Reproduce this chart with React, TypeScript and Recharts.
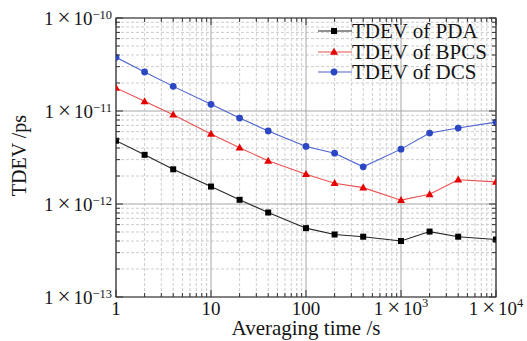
import { LineChart, Line, XAxis, YAxis, CartesianGrid, ReferenceArea } from 'recharts';

const FONT = '"Liberation Serif", "Times New Roman", serif';

// averaging time tau (s)
const taus = [1, 2, 4, 10, 20, 40, 100, 200, 400, 1000, 2000, 4000, 10000];
const tdevPDA = [4.79e-12, 3.38e-12, 2.36e-12, 1.54e-12, 1.11e-12, 8.1e-13, 5.5e-13, 4.7e-13, 4.45e-13, 4.0e-13, 5.05e-13, 4.45e-13, 4.15e-13];
const tdevBPCS = [1.77e-11, 1.27e-11, 9.1e-12, 5.65e-12, 4.03e-12, 2.91e-12, 2.09e-12, 1.67e-12, 1.5e-12, 1.1e-12, 1.27e-12, 1.82e-12, 1.73e-12];
const tdevDCS = [3.78e-11, 2.63e-11, 1.84e-11, 1.18e-11, 8.4e-12, 6.1e-12, 4.16e-12, 3.52e-12, 2.51e-12, 3.89e-12, 5.79e-12, 6.56e-12, 7.6e-12];

const xDecades = [1, 10, 100, 1000, 10000];
const yDecades = [1e-13, 1e-12, 1e-11, 1e-10];
const multipliers = [2, 3, 4, 5, 6, 7, 8, 9];
const xMinor = xDecades.slice(0, -1).flatMap(d => multipliers.map(m => d * m));
const yMinor = yDecades.slice(0, -1).flatMap(d => multipliers.map(m => d * m));

// tick labels: plain text, or mantissa 1 × 10 with exponent
const xLabels: Record<number, string> = { 1: '1', 10: '10', 100: '100' };
const xExps: Record<number, string> = { 1000: '3', 10000: '4' };
const yExps: Record<string, string> = { '1e-13': '−13', '1e-12': '−12', '1e-11': '−11', '1e-10': '−10' };

const series = [
  { key: 'pda', name: 'TDEV of PDA', line: '#262626', mark: '#000000', shape: 'square' },
  { key: 'bpcs', name: 'TDEV of BPCS', line: '#ea5050', mark: '#e60000', shape: 'triangle' },
  { key: 'dcs', name: 'TDEV of DCS', line: '#4d63cf', mark: '#2c47c4', shape: 'circle' },
];

const chartData = taus.map((t, i) => ({ tau: t, pda: tdevPDA[i], bpcs: tdevBPCS[i], dcs: tdevDCS[i] }));

const W = 527;
const H = 341;
const MARGIN = { top: 18, right: 31, left: 0, bottom: 0 };
const Y_AXIS_W = 116;
const X_AXIS_H = 44;
const PLOT_W = W - MARGIN.right - Y_AXIS_W;
const PLOT_H = H - MARGIN.top - X_AXIS_H;
const TEXT = '#151515';

const Marker = ({ cx, cy, shape, color }: any) => {
  if (cx == null || cy == null) return null;
  if (shape === 'square') return <rect x={cx - 3} y={cy - 3} width={6} height={6} fill={color} />;
  if (shape === 'triangle')
    return <polygon points={`${cx},${cy - 4.2} ${cx - 4},${cy + 2.8} ${cx + 4},${cy + 2.8}`} fill={color} />;
  return <circle cx={cx} cy={cy} r={3.4} fill={color} />;
};

// "1 × 10" followed by a raised exponent
const SciParts = ({ exp, supDy }: { exp: string; supDy: number }) => (
  <>
    <tspan>1</tspan>
    <tspan dx={4} fontSize={23}>×</tspan>
    <tspan dx={3}>10</tspan>
    <tspan dy={supDy} fontSize={12.5}>{exp}</tspan>
  </>
);

const XTick = ({ x, y, payload }: any) => {
  const v = payload.value;
  const major = xDecades.includes(v);
  const len = major ? 7 : 4;
  return (
    <g>
      <line x1={x} y1={y} x2={x} y2={y - len} stroke="#333" />
      <line x1={x} y1={y - PLOT_H} x2={x} y2={y - PLOT_H + len} stroke="#333" />
      {major && (
        <text x={x} y={y + 18} textAnchor="middle" fontFamily={FONT} fontSize={19} fill={TEXT}>
          {xLabels[v] ? xLabels[v] : <SciParts exp={xExps[v]} supDy={-8} />}
        </text>
      )}
    </g>
  );
};

const YTick = ({ x, y, payload }: any) => {
  const v = payload.value;
  const key = v.toExponential().replace('+', '');
  const major = key in yExps;
  const len = major ? 7 : 4;
  return (
    <g>
      <line x1={x} y1={y} x2={x + len} y2={y} stroke="#333" />
      <line x1={x + PLOT_W} y1={y} x2={x + PLOT_W - len} y2={y} stroke="#333" />
      {major && (
        <text x={x - 4} y={y + 7} textAnchor="end" fontFamily={FONT} fontSize={19} fill={TEXT}>
          <SciParts exp={yExps[key]} supDy={-6} />
        </text>
      )}
    </g>
  );
};

const XTitle = ({ viewBox }: any) => (
  <text x={viewBox.x + viewBox.width / 2} y={H - 6} textAnchor="middle" fontFamily={FONT} fontSize={21} fill={TEXT}>
    Averaging time /s
  </text>
);

const YTitle = ({ viewBox }: any) => {
  const cy = viewBox.y + viewBox.height / 2 - 2;
  return (
    <text transform={`translate(26, ${cy}) rotate(-90)`} textAnchor="middle" fontFamily={FONT} fontSize={20} fill={TEXT}>
      TDEV /ps
    </text>
  );
};

const LegendBox = () => (
  <div style={{ position: 'absolute', left: 318, top: 21, fontFamily: FONT, fontSize: 21, color: TEXT }}>
    {series.map(s => (
      <div key={s.key} style={{ display: 'flex', alignItems: 'center', height: 20.5 }}>
        <svg width={34} height={12} style={{ flex: 'none' }}>
          <line x1={0} y1={6} x2={34} y2={6} stroke={s.line} strokeWidth={1.2} />
          <Marker cx={16} cy={6} shape={s.shape} color={s.mark} />
        </svg>
        <span style={{ lineHeight: '20.5px', whiteSpace: 'nowrap' }}>{s.name}</span>
      </div>
    ))}
  </div>
);

export default function App() {
  return (
    <div style={{ position: 'relative', width: W, height: H, background: '#fff' }}>
      <style>{'body{margin:0}'}</style>
      <LineChart width={W} height={H} data={chartData} margin={MARGIN}>
        <CartesianGrid
          horizontalValues={yMinor}
          verticalValues={xMinor}
          stroke="#cccccc"
          strokeDasharray="3 2"
        />
        <CartesianGrid horizontalValues={yDecades} verticalValues={xDecades} stroke="#a6a6a6" />
        <XAxis
          dataKey="tau"
          type="number"
          scale="log"
          domain={[1, 10000]}
          ticks={[...xDecades, ...xMinor]}
          interval={0}
          tickSize={0}
          tickMargin={0}
          tickLine={false}
          axisLine={false}
          height={X_AXIS_H}
          tick={<XTick />}
          label={<XTitle />}
          allowDataOverflow
        />
        <YAxis
          type="number"
          scale="log"
          domain={[1e-13, 1e-10]}
          ticks={[...yDecades, ...yMinor]}
          interval={0}
          tickSize={0}
          tickMargin={0}
          tickLine={false}
          axisLine={false}
          width={Y_AXIS_W}
          tick={<YTick />}
          label={<YTitle />}
          allowDataOverflow
        />
        <ReferenceArea x1={1} x2={10000} y1={1e-13} y2={1e-10} fill="none" stroke="#333" strokeWidth={1.2} ifOverflow="visible" />
        {series.map(s => (
          <Line
            key={s.key}
            dataKey={s.key}
            name={s.name}
            stroke={s.line}
            strokeWidth={1.1}
            dot={(p: any) => <Marker key={`${s.key}-${p.index}`} cx={p.cx} cy={p.cy} shape={s.shape} color={s.mark} />}
            activeDot={false}
            isAnimationActive={false}
          />
        ))}
      </LineChart>
      <LegendBox />
    </div>
  );
}
